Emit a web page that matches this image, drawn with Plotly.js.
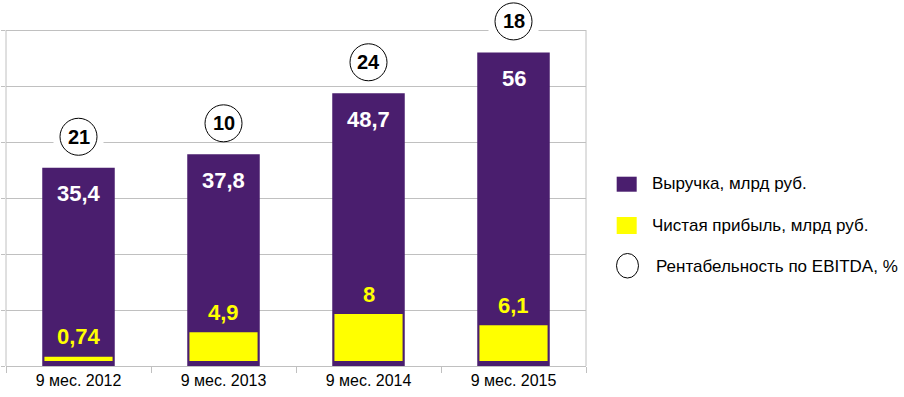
<!DOCTYPE html>
<html>
<head>
<meta charset="utf-8">
<script src="https://cdn.plot.ly/plotly-3.0.1.min.js"></script>
<style>html,body{margin:0;padding:0;background:#fff;}#chart{width:904px;height:397px;}</style>
</head>
<body>
<div id="chart"></div>
<script>
const categories = ['9 мес. 2012', '9 мес. 2013', '9 мес. 2014', '9 мес. 2015'];
const revenue = [35.4, 37.8, 48.7, 56];
const profit = [0.74, 4.9, 8, 6.1];
const ebitdaMargin = [21, 10, 24, 18];
const revenueLabels = ['35,4', '37,8', '48,7', '56'];
const profitLabels = ['0,74', '4,9', '8', '6,1'];
const legendNames = ['Выручка, млрд руб.', 'Чистая прибыль, млрд руб.', 'Рентабельность по EBITDA, %'];

const PURPLE = '#4a1e6e';
const YELLOW = '#ffff00';
const GRID = '#c0c0c0';
const FONT = 'Arial, "Liberation Sans", sans-serif';

const traces = [
  {type: 'bar', x: categories, y: revenue, width: 0.5, marker: {color: PURPLE}, hoverinfo: 'none', showlegend: false},
  {type: 'bar', x: categories, y: profit, yaxis: 'y2', width: 0.47, marker: {color: YELLOW}, hoverinfo: 'none', showlegend: false}
];

const annotations = [];
const shapes = [];

categories.forEach((c, i) => {
  annotations.push({x: c, y: revenue[i], xref: 'x', yref: 'y', text: revenueLabels[i], showarrow: false,
    yshift: -26, yanchor: 'middle', font: {family: FONT, size: 22, color: '#ffffff', weight: 'bold'}});
  annotations.push({x: c, y: profit[i], xref: 'x', yref: 'y2', text: profitLabels[i], showarrow: false,
    yshift: 20, yanchor: 'middle', font: {family: FONT, size: 22, color: YELLOW, weight: 'bold'}});
  annotations.push({x: c, y: revenue[i], xref: 'x', yref: 'y', text: String(ebitdaMargin[i]), showarrow: false,
    yshift: 31, yanchor: 'middle', font: {family: FONT, size: 20, color: '#000000', weight: 'bold'}});
  shapes.push({type: 'rect', xref: 'x', yref: 'y', xsizemode: 'pixel', ysizemode: 'pixel',
    xanchor: c, yanchor: revenue[i], x0: -25, x1: 25, y0: 14, y1: 48,
    fillcolor: '#ffffff', line: {width: 0}, layer: 'above'});
  shapes.push({type: 'circle', xref: 'x', yref: 'y', xsizemode: 'pixel', ysizemode: 'pixel',
    xanchor: c, yanchor: revenue[i], x0: -18.5, x1: 18.5, y0: 12.5, y1: 49.5,
    fillcolor: '#ffffff', line: {color: '#000000', width: 1}, layer: 'above'});
});

// frame lines (left and right) from 0 to top gridline
shapes.push({type: 'line', xref: 'paper', yref: 'y', x0: 0, x1: 0, y0: 0, y1: 60, line: {color: GRID, width: 1}, layer: 'below'});
shapes.push({type: 'line', xref: 'paper', yref: 'y', x0: 1, x1: 1, y0: 0, y1: 60, line: {color: GRID, width: 1}, layer: 'below'});

// custom legend
shapes.push({type: 'rect', xref: 'paper', yref: 'paper', x0: 1.0529, x1: 1.0874, y0: 0.4762, y1: 0.5172, fillcolor: PURPLE, line: {width: 0}});
shapes.push({type: 'rect', xref: 'paper', yref: 'paper', x0: 1.0529, x1: 1.0874, y0: 0.3607, y1: 0.4071, fillcolor: YELLOW, line: {width: 0}});
shapes.push({type: 'circle', xref: 'paper', yref: 'paper', x0: 1.0526, x1: 1.0905, y0: 0.2404, y1: 0.3074, fillcolor: '#ffffff', line: {color: '#000000', width: 1}});
const legendY = [0.4992, 0.3852, 0.2730];
const legendX = [1.1099, 1.1099, 1.1168];
legendNames.forEach((n, i) => {
  annotations.push({xref: 'paper', yref: 'paper', x: legendX[i], y: legendY[i], xanchor: 'left', yanchor: 'middle',
    text: n, showarrow: false, font: {family: FONT, size: 17, color: '#000000'}});
});

const layout = {
  width: 904, height: 397,
  margin: {l: 6, r: 318, t: 0, b: 31, pad: 0},
  paper_bgcolor: '#ffffff', plot_bgcolor: '#ffffff',
  barmode: 'overlay',
  showlegend: false,
  xaxis: {type: 'category', tickson: 'boundaries', ticks: 'outside', ticklen: 6, tickcolor: GRID,
    showline: true, linecolor: GRID, linewidth: 1, showgrid: false, zeroline: false,
    tickfont: {family: FONT, size: 16, color: '#000000'}, fixedrange: true},
  yaxis: {range: [0, 65.357], dtick: 10, tick0: 0, showgrid: true, gridcolor: GRID, gridwidth: 1,
    showline: false, zeroline: false, ticks: 'outside', ticklen: 4, tickcolor: GRID,
    showticklabels: false, fixedrange: true},
  yaxis2: {overlaying: 'y', range: [-0.851, 61.45], visible: false, showgrid: false, zeroline: false, fixedrange: true},
  annotations: annotations,
  shapes: shapes,
  font: {family: FONT}
};

Plotly.newPlot('chart', traces, layout, {displayModeBar: false, staticPlot: true});
</script>
</body>
</html>
